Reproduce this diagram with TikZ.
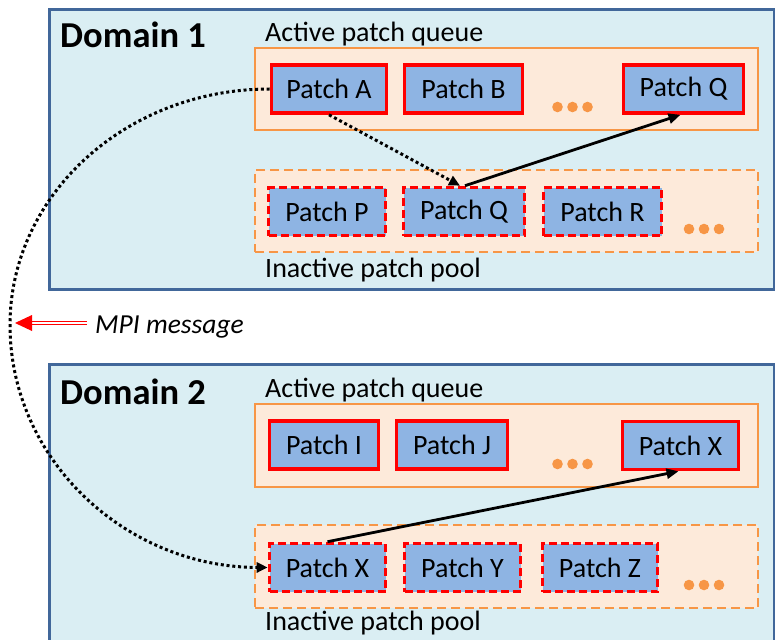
\documentclass[tikz,border=0pt]{standalone}
\usepackage{fontspec}
\setmainfont{Carlito}
\usetikzlibrary{arrows.meta}
\definecolor{domfill}{HTML}{DAEEF3}
\definecolor{domline}{HTML}{41679A}
\definecolor{qline}{HTML}{F79646}
\definecolor{qfill}{HTML}{FDEADA}
\definecolor{pfill}{HTML}{8EB4E3}
\definecolor{pred}{HTML}{FF0000}
\tikzset{
  dombox/.style={draw=domline, fill=domfill, line width=3pt, inner sep=0pt},
  aqueue/.style={draw=qline, fill=qfill, line width=2.6pt, inner sep=0pt},
  ipool/.style={aqueue, dash pattern=on 9pt off 5pt},
  apatch/.style={draw=pred, fill=pfill, line width=3.6pt, inner sep=0pt, minimum height=48pt, font=\fontsize{28}{32}\selectfont},
  ipatch/.style={apatch, dash pattern=on 8pt off 4pt},
  lbl/.style={anchor=base west, inner sep=0pt, font=\fontsize{28}{32}\selectfont},
  dlbl/.style={anchor=base west, inner sep=0pt, font=\fontsize{36.5}{40}\selectfont\bfseries},
  dotline/.style={line width=3pt, dash pattern=on 3pt off 2.8pt, -{Triangle[length=11pt,width=10pt]}},
  solidarrow/.style={line width=2.8pt, -{Triangle[length=12pt,width=10pt]}},
  odot/.style={fill=qline}
}
\begin{document}
\begin{tikzpicture}[x=1pt,y=-1pt]
\useasboundingbox (0,0) rectangle (775,639);
\clip (0,0) rectangle (775,639);
% domains
\node[dombox, minimum width=725pt, minimum height=279pt] (d1) at (411.5,149.5) {};
\node[dombox, minimum width=725pt, minimum height=336pt] (d2) at (411.5,532) {};
% domain labels
\node[dlbl] (d1t) at (60,48) {Domain 1};
\node[dlbl] (d2t) at (60,404) {Domain 2};
% queue labels
\node[lbl] (aql1) at (265,42) {Active patch queue};
\node[lbl] (ipl1) at (265,277) {Inactive patch pool};
\node[lbl] (aql2) at (265,397) {Active patch queue};
\node[lbl] (ipl2) at (265,630) {Inactive patch pool};
% containers
\node[aqueue, minimum width=503pt, minimum height=82pt] (aq1) at (506.5,89) {};
\node[ipool, minimum width=503pt, minimum height=82pt] (ip1) at (506.5,211) {};
\node[aqueue, minimum width=503pt, minimum height=83pt] (aq2) at (506.5,445.5) {};
\node[ipool, minimum width=503pt, minimum height=83pt] (ip2) at (506.5,566.5) {};
% domain 1 patches
\node[apatch, minimum width=115pt] (A) at (329,89) {Patch A};
\node[apatch, minimum width=118pt] (B) at (463.5,89) {Patch B};
\node[apatch, minimum width=120pt] (Qa) at (683.5,89) {Patch Q};
\node[ipatch, minimum width=117pt] (P) at (327,211.5) {Patch P};
\node[ipatch, minimum width=121pt] (Qi) at (464,211.5) {Patch Q};
\node[ipatch, minimum width=118pt] (R) at (602.5,211.5) {Patch R};
% domain 2 patches
\node[apatch, minimum width=109pt] (I) at (324,445) {Patch I};
\node[apatch, minimum width=111pt] (J) at (452,445) {Patch J};
\node[apatch, minimum width=116pt] (Xa) at (680.5,445.5) {Patch X};
\node[ipatch, minimum width=116pt] (Xi) at (327.5,567.5) {Patch X};
\node[ipatch, minimum width=116pt] (Y) at (462.5,567.5) {Patch Y};
\node[ipatch, minimum width=115pt] (Z) at (600,567.5) {Patch Z};
% ellipsis dots
\foreach \x in {557.5,572.5,587.5} {
  \fill[odot] (\x,107) circle (5.3pt);
  \fill[odot] (\x,464) circle (5.3pt);
}
\foreach \x in {689,704,719} {
  \fill[odot] (\x,229) circle (5.3pt);
  \fill[odot] (\x,585) circle (5.3pt);
}
% arrows domain 1
\draw[dotline] (A.south) -- ([xshift=-4pt]Qi.north);
\draw[solidarrow] ([xshift=1pt]Qi.north) -- ([xshift=-3pt]Qa.south);
% arrow domain 2
\draw[solidarrow] (Xi.north) -- ([xshift=-2pt]Xa.south);
% MPI curve
\coordinate (mid) at (10,325);
\draw[dotline] (A.west) .. controls (126,89) and (10,195) .. (mid) .. controls (10,460) and (126,567) .. (Xi.west);
% MPI message arrow
\coordinate (m1) at (87,323);
\coordinate (m2) at (32,323);
\coordinate (mt) at (15,323);
\draw[draw=pred, line width=1.2pt, double=white, double distance=2.2pt] (m1) -- (m2);
\fill[pred] (mt) -- ([yshift=8pt]m2) -- ([yshift=-8pt]m2) -- cycle;
\node[anchor=base west, inner sep=0pt, font=\fontsize{27.5}{32}\selectfont\itshape] (mpi) at (95,333) {MPI message};
\end{tikzpicture}
\end{document}
